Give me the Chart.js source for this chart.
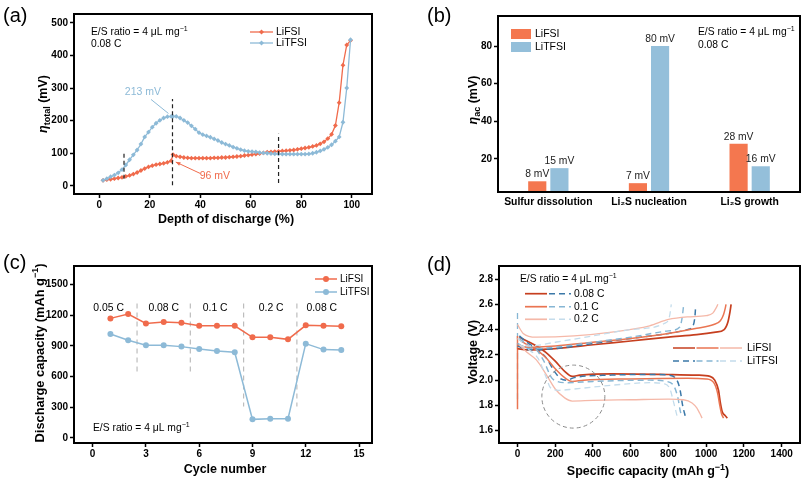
<!DOCTYPE html>
<html><head><meta charset="utf-8">
<script src="https://cdn.jsdelivr.net/npm/chart.js@4/dist/chart.umd.min.js"></script>
<style>
html,body{margin:0;padding:0;background:#fff;}
#wrap{position:relative;width:811px;height:490px;overflow:hidden;background:#fff;}
.p{position:absolute;}
</style></head><body>
<div id="wrap">
<canvas id="ca" class="p" style="left:0;top:0" width="405" height="245"></canvas>
<canvas id="cb" class="p" style="left:405px;top:0" width="406" height="245"></canvas>
<canvas id="cc" class="p" style="left:0;top:245px" width="405" height="245"></canvas>
<canvas id="cd" class="p" style="left:405px;top:245px" width="406" height="245"></canvas>
</div>
<script>
// ---------- DATA ----------
// (a) total overpotential vs depth of discharge
const depth = [1.5,3,4.5,6,7.5,9,10.5,12,13.5,15,16.5,18,19.5,21,22.5,24,25.5,27,28.5,29.2,30.5,32,33.5,35,36.5,38,39.5,41,42.5,44,45.5,47,48.5,50,51.5,53,54.5,56,57.5,59,60.5,62,63.5,65,66.5,68,69.5,71,72.5,74,75.5,77,78.5,80,81.5,83,84.5,86,87.5,89,90.5,92,93.5,95,96.5,98,99.5];
const etaLiFSI = [17,19,20,22,24,26,29,32,36,41,47,53,58,62,65,67,69,72,77,96,91,89,87,86,85,85,85,85,85,85,86,86,87,87,88,89,90,91,93,94,96,97,99,101,103,104,105,106,107,108,109,110,112,114,116,118,121,124,129,135,145,158,185,255,370,432,446];
const etaLiTFSI = [17,22,28,33,40,50,64,80,95,110,128,150,165,180,192,201,208,212,213,213,213,208,201,194,184,174,163,157,153,149,144,139,133,128,124,119,115,111,108,106,105,104,102,101,100,99,98,98,97,97,97,97,97,97,97,98,100,103,107,112,118,126,137,150,195,300,448];
const ticksA_x = [0,20,40,60,80,100];
const ticksA_y = [0,100,200,300,400,500];

// (b) activation overpotentials
const stages = ['Sulfur dissolution','Li\u2082S nucleation','Li\u2082S growth'];
const etaAcLiFSI = [8,7,28];
const etaAcLiTFSI = [15,80,16];
const ticksB_y = [20,40,60,80];

// (c) rate capability
const cycles = [1,2,3,4,5,6,7,8,9,10,11,12,13,14];
const capLiFSI = [1169,1211,1120,1133,1127,1097,1097,1097,984,984,964,1101,1097,1091];
const capLiTFSI = [1016,955,906,906,893,870,851,838,182,188,188,922,864,860];
const rateLabels = ['0.05 C','0.08 C','0.1 C','0.2 C','0.08 C'];
const rateLabelCycle = [0.9,4.0,6.9,10.05,12.9];
const rateBounds = [2.5,5.5,8.5,11.5];
const ticksC_x = [0,3,6,9,12,15];
const ticksC_y = [0,300,600,900,1200,1500];

// (d) voltage profiles (capacity mAh/g, voltage V)
const fsi008DisQ = [10,50,100,150,200,250,290,330,500,800,950,1020,1045,1065,1075,1085,1100,1112];
const fsi008DisV = [2.34,2.31,2.27,2.22,2.15,2.07,2.03,2.04,2.05,2.045,2.04,2.03,2.0,1.92,1.82,1.75,1.72,1.70];
const fsi01DisQ = [10,50,100,150,200,250,290,350,600,900,1000,1040,1060,1072,1082,1092];
const fsi01DisV = [2.32,2.28,2.24,2.18,2.09,2.02,1.99,2.0,2.01,2.015,2.01,1.98,1.9,1.8,1.73,1.70];
const fsi02DisQ = [10,50,100,150,200,250,290,400,600,800,880,925,950,965,978];
const fsi02DisV = [2.28,2.22,2.16,2.05,1.93,1.86,1.835,1.84,1.845,1.85,1.845,1.82,1.78,1.74,1.70];
const fsi008ChQ = [0,50,200,400,600,800,950,1050,1095,1115,1126,1132];
const fsi008ChV = [2.25,2.24,2.25,2.28,2.31,2.34,2.36,2.38,2.40,2.46,2.54,2.6];
const fsi01ChQ = [0,50,200,400,600,800,950,1040,1075,1092,1101,1105];
const fsi01ChV = [2.28,2.26,2.27,2.30,2.33,2.37,2.41,2.44,2.47,2.52,2.57,2.6];
const fsi02ChQ = [0,30,100,300,500,700,800,900,1000,1035,1052,1062];
const fsi02ChV = [2.44,2.37,2.34,2.35,2.38,2.43,2.48,2.50,2.51,2.53,2.57,2.6];
const tfsi008DisQ = [10,50,100,150,200,230,260,300,500,700,800,845,862,875,890];
const tfsi008DisV = [2.35,2.3,2.25,2.18,2.06,2.01,2.0,2.02,2.04,2.045,2.04,2.0,1.92,1.8,1.71];
const tfsi01DisQ = [10,50,100,140,180,210,260,400,700,790,830,850,862,870];
const tfsi01DisV = [2.33,2.28,2.24,2.15,2.02,1.99,1.98,1.99,2.0,1.99,1.95,1.86,1.76,1.71];
const tfsi02DisQ = [10,60,110,150,175,220,300,500,700,780,808,828,845];
const tfsi02DisV = [2.28,2.24,2.17,2.03,1.94,1.92,1.93,1.96,1.98,1.97,1.93,1.82,1.72];
const tfsi008ChQ = [0,60,200,400,600,800,900,930,940,943];
const tfsi008ChV = [2.27,2.24,2.25,2.29,2.33,2.37,2.40,2.43,2.5,2.56];
const tfsi01ChQ = [0,60,200,400,600,800,860,873,880];
const tfsi01ChV = [2.29,2.25,2.26,2.30,2.34,2.39,2.42,2.5,2.59];
const tfsi02ChQ = [0,60,200,400,600,780,805,815];
const tfsi02ChV = [2.33,2.27,2.30,2.35,2.40,2.45,2.5,2.6];
const fsiRestQ = [0,0], fsiRestV = [1.77,2.35];
const tfsiRestQ = [0,0], tfsiRestV = [1.85,2.55];
const ticksD_x = [0,200,400,600,800,1000,1200,1400];
const ticksD_y = [1.6,1.8,2.0,2.2,2.4,2.6,2.8];

// ---------- STYLE ----------
const FONT = '"Liberation Sans", Arial, Helvetica, sans-serif';
const C_OR = '#F06B4C', C_BL = '#8DBAD7';
const BAR_OR = '#F4774F', BAR_BL = '#94BFDA';
const D_COL = {fsi008:'#C63F1F', fsi01:'#EA7552', fsi02:'#F5B8A8', tfsi008:'#3B78A8', tfsi01:'#86B6D4', tfsi02:'#C4DCEB'};
const TS = 10.3;   // regular annotation text size
const TTL = 12.5;  // axis title size

function xy(xs, ys){ return xs.map((v,i)=>({x:v,y:ys[i]})); }

function rich(ctx, parts, x, y, o){
  o = Object.assign({size:TTL,bold:true,align:'center',rotate:false,color:'#000'}, o||{});
  ctx.save(); ctx.translate(x,y); if(o.rotate) ctx.rotate(-Math.PI/2);
  const fw = o.bold ? 'bold ' : '';
  const fontFor = p => {
    let s = o.size, st = '';
    if (p.k==='sub' || p.k==='sup') s = Math.round(o.size*0.68);
    if (p.k==='i') st = 'italic ';
    return st + fw + s + 'px ' + FONT;
  };
  let w = 0;
  parts.forEach(p => { ctx.font = fontFor(p); p.w = ctx.measureText(p.t).width; w += p.w; });
  let cx = o.align==='center' ? -w/2 : 0;
  ctx.textBaseline = 'middle'; ctx.textAlign = 'left'; ctx.fillStyle = o.color;
  parts.forEach(p => {
    ctx.font = fontFor(p);
    const dy = p.k==='sub' ? o.size*0.32 : (p.k==='sup' ? -o.size*0.32 : 0);
    ctx.fillText(p.t, cx, dy); cx += p.w;
  });
  ctx.restore();
}
const ES_PARTS = () => [{t:'E/S ratio = 4 \u03bcL mg'},{t:'\u22121',k:'sup'}];

function axis(o){
  const a = {
    type: o.type || 'linear',
    afterFit: s => { if (s.isHorizontal()) s.height = o.size; else s.width = o.size; },
    grid: {display:true, drawOnChartArea:false, drawTicks: o.noTicks ? false : true, tickLength: o.noTicks ? 0 : 4, tickWidth:1.5, tickColor:'#000'},
    border: {display:false},
    ticks: {color:'#000', font:{family:FONT,size:(o.fs||10),weight:'bold'}, padding: (o.pad!==undefined ? o.pad : 2), maxRotation:0, autoSkip:false}
  };
  if (o.min!==undefined) a.min = o.min;
  if (o.max!==undefined) a.max = o.max;
  if (o.ticks) a.afterBuildTicks = s => { s.ticks = o.ticks.map(v=>({value:v})); };
  if (o.fmt) a.ticks.callback = o.fmt;
  return a;
}
const plain = v => String(v);

function framePlugin(decor){
  return {
    id:'decor',
    afterDraw(chart){
      const {ctx, chartArea:ca} = chart;
      ctx.save();
      ctx.strokeStyle = '#000'; ctx.lineWidth = 2;
      ctx.strokeRect(ca.left, ca.top, ca.right-ca.left, ca.bottom-ca.top);
      ctx.restore();
      ctx.save(); decor(chart); ctx.restore();
    }
  };
}
function txt(ctx, t, x, y, o){
  o = o || {};
  ctx.save();
  ctx.font = (o.bold?'bold ':'') + (o.size||TS) + 'px ' + FONT;
  ctx.fillStyle = o.color || '#000';
  ctx.textAlign = o.align || 'left'; ctx.textBaseline = 'middle';
  ctx.fillText(t, x, y);
  ctx.restore();
}
function diamond(ctx, x, y, r, c){
  ctx.save(); ctx.fillStyle = c; ctx.beginPath();
  ctx.moveTo(x, y-r); ctx.lineTo(x+r, y); ctx.lineTo(x, y+r); ctx.lineTo(x-r, y); ctx.closePath(); ctx.fill(); ctx.restore();
}
function seg(ctx, x1, y1, x2, y2, c, w, dash){
  ctx.save(); ctx.strokeStyle = c; ctx.lineWidth = w; ctx.setLineDash(dash||[]);
  ctx.beginPath(); ctx.moveTo(x1,y1); ctx.lineTo(x2,y2); ctx.stroke(); ctx.restore();
}

const common = {responsive:false, animation:false, maintainAspectRatio:false,
  plugins:{legend:{display:false}, tooltip:{enabled:false}}};

// ---------- (a) ----------
new Chart(document.getElementById('ca'), {
  type:'line',
  data:{datasets:[
    {label:'LiTFSI', data:xy(depth, etaLiTFSI), borderColor:C_BL, backgroundColor:C_BL, borderWidth:1.3, pointStyle:'rectRot', pointRadius:2.4, pointBorderWidth:0, tension:0},
    {label:'LiFSI', data:xy(depth, etaLiFSI), borderColor:C_OR, backgroundColor:C_OR, borderWidth:1.3, pointStyle:'rectRot', pointRadius:2.4, pointBorderWidth:0, tension:0}
  ]},
  options:Object.assign({}, common, {
    layout:{padding:{top:14,right:33,left:0,bottom:0}},
    scales:{
      x: axis({min:-10, max:108, ticks:ticksA_x, size:51, pad:1, fmt:plain}),
      y: axis({min:-25, max:527, ticks:ticksA_y, size:74, pad:2, fmt:plain})
    }
  }),
  plugins:[framePlugin(chart => {
    const {ctx, chartArea:ca, scales:{x,y}} = chart;
    [[9.8,22,102],[29,2,266],[71,9,160]].forEach(l => seg(ctx, x.getPixelForValue(l[0]), y.getPixelForValue(l[1]), x.getPixelForValue(l[0]), y.getPixelForValue(l[2]), '#222', 1.2, [4,3]));
    txt(ctx, '213 mV', x.getPixelForValue(17.3), y.getPixelForValue(287), {color:C_BL, align:'center', size:10.5});
    seg(ctx, x.getPixelForValue(20.5), y.getPixelForValue(265), x.getPixelForValue(27.4), y.getPixelForValue(222), C_BL, 1);
    txt(ctx, '96 mV', x.getPixelForValue(45.8), y.getPixelForValue(30), {color:C_OR, align:'center', size:10.5});
    const ax1 = x.getPixelForValue(40), ay1 = y.getPixelForValue(38), ax2 = x.getPixelForValue(30.3), ay2 = y.getPixelForValue(73);
    seg(ctx, ax1, ay1, ax2, ay2, C_OR, 1);
    const ang = Math.atan2(ay2-ay1, ax2-ax1);
    ctx.fillStyle = C_OR; ctx.beginPath(); ctx.moveTo(ax2, ay2);
    ctx.lineTo(ax2 - 5*Math.cos(ang-0.4), ay2 - 5*Math.sin(ang-0.4));
    ctx.lineTo(ax2 - 5*Math.cos(ang+0.4), ay2 - 5*Math.sin(ang+0.4)); ctx.closePath(); ctx.fill();
    rich(ctx, ES_PARTS(), ca.left+17, ca.top+18, {size:TS, bold:false, align:'left'});
    txt(ctx, '0.08 C', ca.left+17, ca.top+30);
    [[C_OR,'LiFSI',18],[C_BL,'LiTFSI',29]].forEach(l => {
      seg(ctx, 250, ca.top+l[2], 273, ca.top+l[2], l[0], 1.3);
      diamond(ctx, 261.5, ca.top+l[2], 2.5, l[0]);
      txt(ctx, l[1], 276, ca.top+l[2], {size:10.5});
    });
    rich(ctx, [{t:'\u03b7',k:'i'},{t:'total',k:'sub'},{t:' (mV)'}], 44, 104, {rotate:true});
    rich(ctx, [{t:'Depth of discharge (%)'}], 226, 220);
    txt(ctx, '(a)', 3, 16, {size:20});
  })]
});

// ---------- (b) ----------
new Chart(document.getElementById('cb'), {
  type:'bar',
  data:{labels:stages, datasets:[
    {label:'LiFSI', data:etaAcLiFSI, backgroundColor:BAR_OR, borderWidth:0, categoryPercentage:0.44, barPercentage:0.82},
    {label:'LiTFSI', data:etaAcLiTFSI, backgroundColor:BAR_BL, borderWidth:0, categoryPercentage:0.44, barPercentage:0.82}
  ]},
  options:Object.assign({}, common, {
    layout:{padding:{top:16,right:11,left:0,bottom:0}},
    scales:{
      x: axis({type:'category', size:53, noTicks:true, pad:4, fs:10.4}),
      y: axis({min:2.3, max:96, ticks:ticksB_y, size:93, pad:2, fmt:plain})
    }
  }),
  plugins:[framePlugin(chart => {
    const {ctx, chartArea:ca} = chart;
    chart.data.datasets.forEach((ds, di) => {
      chart.getDatasetMeta(di).data.forEach((bar, i) => {
        txt(ctx, ds.data[i] + ' mV', bar.x, bar.y - 7, {align:'center', color:'#222'});
      });
    });
    [[BAR_OR,'LiFSI',13],[BAR_BL,'LiTFSI',26]].forEach(l => {
      ctx.fillStyle = l[0]; ctx.fillRect(ca.left+13, ca.top+l[2], 20, 10);
      txt(ctx, l[1], ca.left+37, ca.top+l[2]+5, {size:10.5});
    });
    rich(ctx, ES_PARTS(), ca.left+200, ca.top+16, {size:TS, bold:false, align:'left'});
    txt(ctx, '0.08 C', ca.left+200, ca.top+29);
    rich(ctx, [{t:'\u03b7',k:'i'},{t:'ac',k:'sub'},{t:' (mV)'}], 69, 100, {rotate:true});
    txt(ctx, '(b)', 22, 16, {size:20});
  })]
});

// ---------- (c) ----------
new Chart(document.getElementById('cc'), {
  type:'line',
  data:{datasets:[
    {label:'LiTFSI', data:xy(cycles, capLiTFSI), borderColor:C_BL, backgroundColor:C_BL, borderWidth:1.5, pointRadius:3, pointBorderWidth:0, tension:0},
    {label:'LiFSI', data:xy(cycles, capLiFSI), borderColor:C_OR, backgroundColor:C_OR, borderWidth:1.5, pointRadius:3, pointBorderWidth:0, tension:0}
  ]},
  options:Object.assign({}, common, {
    layout:{padding:{top:21,right:33,left:0,bottom:0}},
    scales:{
      x: axis({min:-1.05, max:15.73, ticks:ticksC_x, size:47, pad:1, fmt:plain}),
      y: axis({min:-49, max:1681, ticks:ticksC_y, size:74, pad:2, fmt:plain})
    }
  }),
  plugins:[{id:'behind', beforeDatasetsDraw(chart){
    const {ctx, scales:{x,y}} = chart;
    rateBounds.forEach((b,i) => {
      const lo = i < 2 ? 633 : 308;
      seg(ctx, x.getPixelForValue(b), y.getPixelForValue(1315), x.getPixelForValue(b), y.getPixelForValue(lo), '#BDBDBD', 1.2, [5,4]);
    });
  }}, framePlugin(chart => {
    const {ctx, chartArea:ca, scales:{x,y}} = chart;
    rateLabels.forEach((t,i) => txt(ctx, t, x.getPixelForValue(rateLabelCycle[i]), y.getPixelForValue(1266), {align:'center', size:10.4}));
    [[C_OR,'LiFSI',13],[C_BL,'LiTFSI',26]].forEach(l => {
      seg(ctx, ca.left+241, ca.top+l[2], ca.left+263, ca.top+l[2], l[0], 1.5);
      ctx.fillStyle = l[0]; ctx.beginPath(); ctx.arc(ca.left+252, ca.top+l[2], 3, 0, Math.PI*2); ctx.fill();
      txt(ctx, l[1], ca.left+266, ca.top+l[2], {size:10});
    });
    rich(ctx, ES_PARTS(), ca.left+19, ca.top+162, {size:TS, bold:false, align:'left'});
    rich(ctx, [{t:'Discharge capacity (mAh g'},{t:'\u22121',k:'sup'},{t:')'}], 40, 108, {rotate:true, size:12.8});
    rich(ctx, [{t:'Cycle number'}], 225, 225);
    txt(ctx, '(c)', 3, 18, {size:20});
  })]
});

// ---------- (d) ----------
function dl(q, v, col, w, dashed){
  return {data:xy(q,v), borderColor:col, backgroundColor:col, borderWidth:w, pointRadius:0, borderDash: dashed ? [6,4] : [], cubicInterpolationMode:'monotone', fill:false};
}
new Chart(document.getElementById('cd'), {
  type:'line',
  data:{datasets:[
    dl(tfsi02DisQ, tfsi02DisV, D_COL.tfsi02, 1.3, true),
    dl(tfsi02ChQ, tfsi02ChV, D_COL.tfsi02, 1.3, true),
    dl(fsi02DisQ, fsi02DisV, D_COL.fsi02, 1.3, false),
    dl(fsi02ChQ, fsi02ChV, D_COL.fsi02, 1.3, false),
    dl(tfsi01DisQ, tfsi01DisV, D_COL.tfsi01, 1.4, true),
    dl(tfsi01ChQ, tfsi01ChV, D_COL.tfsi01, 1.4, true),
    dl(fsi01DisQ, fsi01DisV, D_COL.fsi01, 1.5, false),
    dl(fsi01ChQ, fsi01ChV, D_COL.fsi01, 1.5, false),
    dl(tfsi008DisQ, tfsi008DisV, D_COL.tfsi008, 1.5, true),
    dl(tfsi008ChQ, tfsi008ChV, D_COL.tfsi008, 1.5, true),
    dl(fsi008DisQ, fsi008DisV, D_COL.fsi008, 1.7, false),
    dl(fsi008ChQ, fsi008ChV, D_COL.fsi008, 1.7, false),
    dl(fsiRestQ, fsiRestV, D_COL.fsi01, 1.5, false),
    dl(tfsiRestQ, tfsiRestV, D_COL.tfsi01, 1.3, true)
  ]},
  options:Object.assign({}, common, {
    layout:{padding:{top:21,right:11,left:0,bottom:0}},
    scales:{
      x: axis({min:-98, max:1497, ticks:ticksD_x, size:47, pad:1, fmt:plain}),
      y: axis({min:1.503, max:2.903, ticks:ticksD_y, size:94, pad:2, fmt:v=>Number(v).toFixed(1)})
    }
  }),
  plugins:[framePlugin(chart => {
    const {ctx, chartArea:ca, scales:{x,y}} = chart;
    ctx.save(); ctx.strokeStyle = '#8A8A8A'; ctx.lineWidth = 1; ctx.setLineDash([4,3]);
    ctx.beginPath(); ctx.arc(x.getPixelForValue(296), y.getPixelForValue(1.87), 31.5, 0, Math.PI*2); ctx.stroke(); ctx.restore();
    rich(ctx, ES_PARTS(), ca.left+21, ca.top+13, {size:TS, bold:false, align:'left'});
    [['0.08 C',D_COL.fsi008,D_COL.tfsi008,27.7],['0.1 C',D_COL.fsi01,D_COL.tfsi01,40.7],['0.2 C',D_COL.fsi02,D_COL.tfsi02,53.3]].forEach(l => {
      seg(ctx, ca.left+26, ca.top+l[3], ca.left+48, ca.top+l[3], l[1], 1.7);
      seg(ctx, ca.left+50, ca.top+l[3], ca.left+72, ca.top+l[3], l[2], 1.5, [6,4]);
      txt(ctx, l[0], ca.left+75, ca.top+l[3], {size:10.3});
    });
    [D_COL.fsi008, D_COL.fsi01, D_COL.fsi02].forEach((c,i) => seg(ctx, ca.left+174+i*23.5, ca.top+82, ca.left+196+i*23.5, ca.top+82, c, 1.5));
    [D_COL.tfsi008, D_COL.tfsi01, D_COL.tfsi02].forEach((c,i) => seg(ctx, ca.left+174+i*23.5, ca.top+95, ca.left+196+i*23.5, ca.top+95, c, 1.5, [6,4]));
    txt(ctx, 'LiFSI', ca.left+248, ca.top+82, {size:10.5});
    txt(ctx, 'LiTFSI', ca.left+248, ca.top+95, {size:10.5});
    rich(ctx, [{t:'Voltage (V)'}], 69, 107, {rotate:true});
    rich(ctx, [{t:'Specific capacity (mAh g'},{t:'\u22121',k:'sup'},{t:')'}], 243, 227);
    txt(ctx, '(d)', 22, 20, {size:20});
  })]
});
</script>
</body></html>
